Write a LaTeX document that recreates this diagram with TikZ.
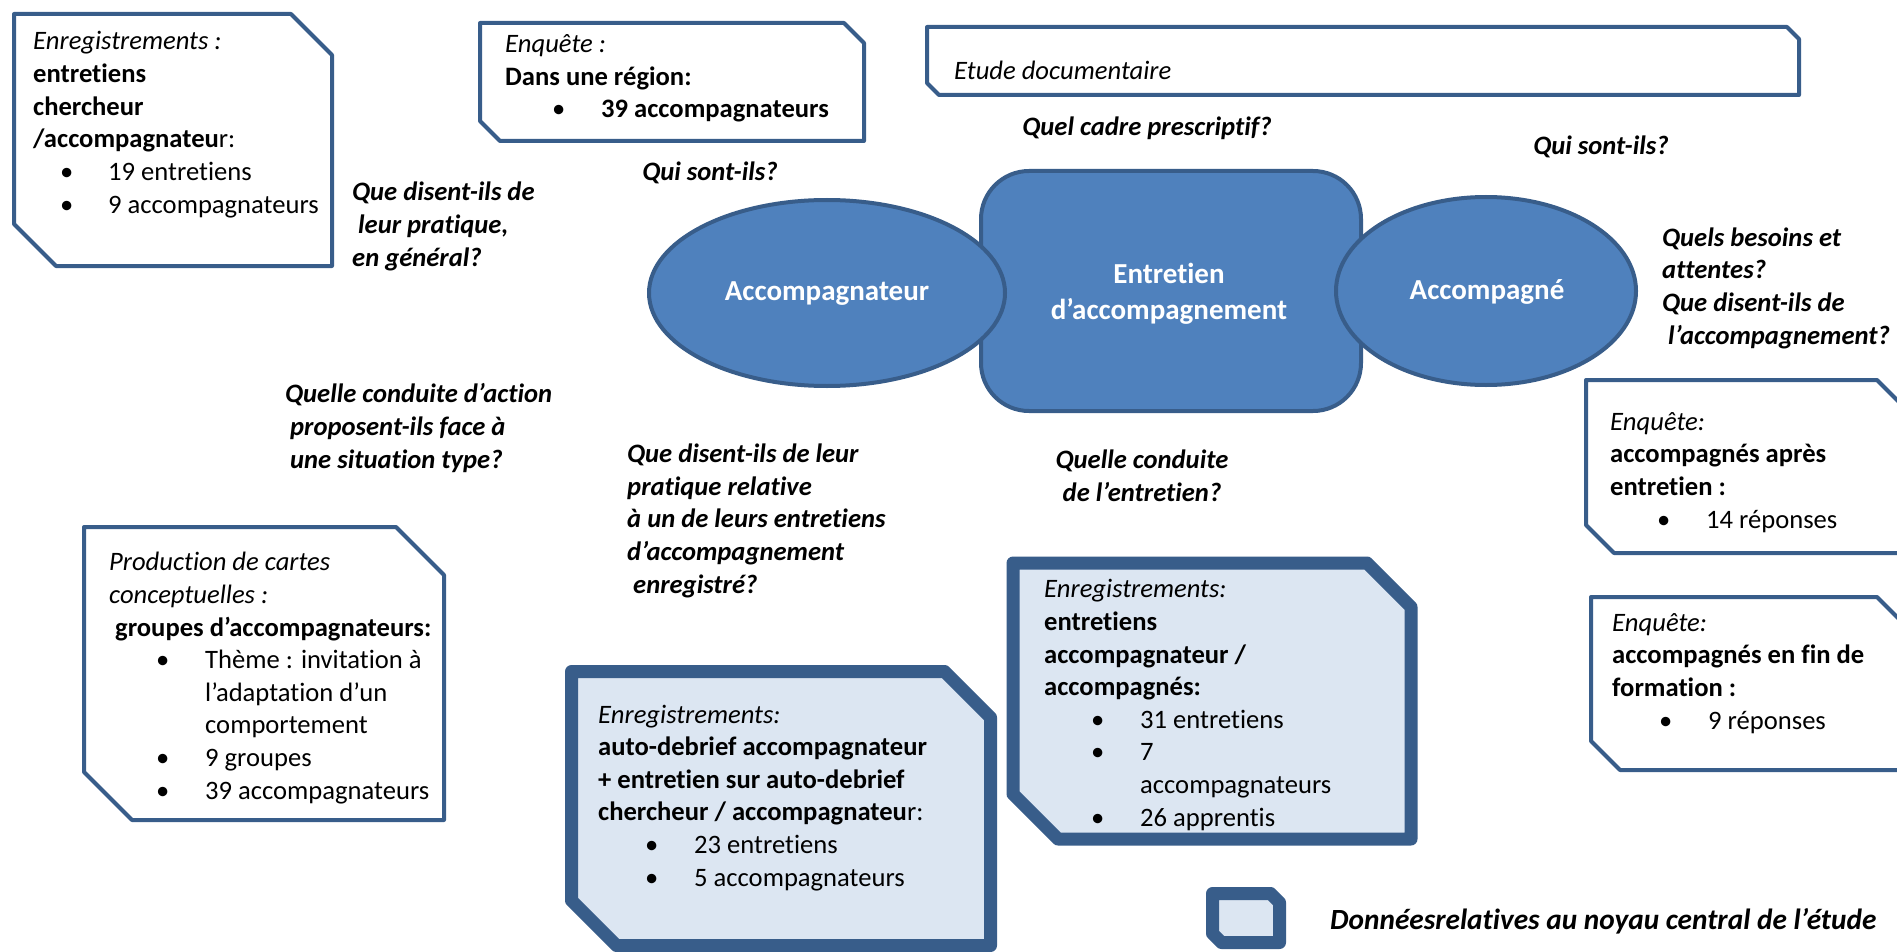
\documentclass[tikz,border=0pt]{standalone}
\usepackage{fontspec}
\setmainfont{Carlito}[Ligatures={NoCommon}]
\definecolor{accfill}{HTML}{4F81BD}
\definecolor{accline}{HTML}{385D8A}
\definecolor{lightfill}{HTML}{DCE6F2}
\newcommand\bline[1]{\hspace*{47pt}\makebox[49pt][l]{\textbullet}#1}
\newcommand\blineA[1]{\hspace*{27pt}\makebox[48pt][l]{\textbullet}#1}
\newcommand\indentl[1]{\hspace*{96pt}#1}
% snipped box: style, x1,y1,x2,y2, top-right cut, bottom-left cut
\newcommand\snipbox[7]{\path[#1] (#2,#3) -- ({#4-#6},#3) -- (#4,{#3+#6}) -- (#4,#5) -- ({#2+#7},#5) -- (#2,{#5-#7}) -- cycle;}
\tikzset{
  thinbox/.style={draw=accline, line width=4pt, fill=white, line join=round},
  thickbox/.style={draw=accline, line width=13pt, fill=lightfill, line join=round},
  centre/.style={draw=accline, line width=4pt, fill=accfill},
  txt/.style={inner sep=0pt, align=left, anchor=base west, font=\fontsize{26.6}{32.6}\selectfont},
  quest/.style={inner sep=0pt, align=left, anchor=base west, font=\fontsize{26.6}{32.6}\selectfont\bfseries\itshape},
  ctxt/.style={inner sep=0pt, align=center, text=white, font=\fontsize{29}{36}\selectfont\bfseries},
}
\begin{document}
\begin{tikzpicture}[x=1pt,y=-1pt]
\clip (0,0) rectangle (1897,952);
\fill[white] (0,0) rectangle (1897,952);
% boxes
\snipbox{thinbox}{14}{14}{332}{266}{41}{42}
\snipbox{thinbox}{480}{23}{864}{141}{20}{20}
\snipbox{thinbox}{927}{27}{1799}{95}{12}{12}
\snipbox{thinbox}{1586}{380}{1920}{553}{43}{28}
\snipbox{thinbox}{1591}{597}{1920}{770}{43}{29}
\snipbox{thinbox}{84}{527}{444}{820}{48}{48}
\snipbox{thickbox}{571.5}{671.5}{990.5}{945.5}{46}{45}
\snipbox{thickbox}{1013}{563}{1411}{839}{44}{45}
\snipbox{thickbox}{1212.5}{893.5}{1279.5}{942.5}{9}{9}
% central shapes
\draw[centre, rounded corners=48pt] (981,171) rectangle (1361,411);
\draw[centre] (827,293) ellipse [x radius=178, y radius=93];
\draw[centre] (1486,291) ellipse [x radius=150, y radius=94];
\node[ctxt] (acc) at (827,294) {Accompagnateur};
\node[ctxt] (ent) at (1169,294) {Entretien\\d’accompagnement};
\node[ctxt] (accg) at (1487,292) {Accompagné};
% box texts (anchor = baseline of the last line)
\node[txt] (t1) at (33,213) {\textit{Enregistrements :}\\ \textbf{entretiens}\\ \textbf{chercheur}\\ \textbf{/accompagnateu}r:\\ \blineA{19 entretiens}\\ \blineA{9 accompagnateurs}};
\node[txt] (t2) at (505,118) {\textit{Enquête :}\\ \textbf{Dans une région:}\\ \bline{\textbf{39 accompagnateurs}}};
\node[txt] (t3) at (954,80) {\textit{Etude documentaire}};
\node[txt] (t4) at (1610,528) {\textit{Enquête:}\\ \textbf{accompagnés après}\\ \textbf{entretien :}\\ \bline{14 réponses}};
\node[txt] (t5) at (1612,729) {\textit{Enquête:}\\ \textbf{accompagnés en fin de}\\ \textbf{formation :}\\ \bline{9 réponses}};
\node[txt] (t6) at (109,799) {\textit{Production de cartes}\\ \textit{conceptuelles :}\\ \hspace*{6pt}\textbf{groupes d’accompagnateurs:}\\ \bline{Thème : invitation à}\\ \indentl{l’adaptation d’un}\\ \indentl{comportement}\\ \bline{9 groupes}\\ \bline{39 accompagnateurs}};
\node[txt] (t7) at (598,886) {\textit{Enregistrements:}\\ \textbf{auto-debrief accompagnateur}\\ \textbf{+ entretien sur auto-debrief}\\ \textbf{chercheur / accompagnateu}r:\\ \bline{23 entretiens}\\ \bline{5 accompagnateurs}};
\node[txt] (t8) at (1044,826) {\textit{Enregistrements:}\\ \textbf{entretiens}\\ \textbf{accompagnateur /}\\ \textbf{accompagnés:}\\ \bline{31 entretiens}\\ \bline{7}\\ \indentl{accompagnateurs}\\ \bline{26 apprentis}};
% questions
\node[quest, anchor=base] (q1) at (1147,136) {Quel cadre prescriptif?};
\node[quest, anchor=base] (q2) at (1601,155) {Qui sont-ils?};
\node[quest, anchor=base] (q3) at (710,181) {Qui sont-ils?};
\node[quest] (q4) at (352,266) {Que disent-ils de\\ \hspace*{6pt}leur pratique,\\ en général?};
\node[quest] (q5) at (285,468) {Quelle conduite d’action\\ \hspace*{5pt}proposent-ils face à\\ \hspace*{5pt}une situation type?};
\node[quest] (q6) at (627,593) {Que disent-ils de leur\\ pratique relative\\ à un de leurs entretiens\\ d’accompagnement\\ \hspace*{6pt}enregistré?};
\node[quest, anchor=base, align=center] (q7) at (1142,501) {Quelle conduite\\ de l’entretien?};
\node[quest] (q8) at (1662,344) {Quels besoins et\\ attentes?\\ Que disent-ils de\\ \hspace*{6pt}l’accompagnement?};
% legend
\node[quest, font=\fontsize{29.3}{35}\selectfont\bfseries\itshape] (leg) at (1330,929) {Donnéesrelatives au noyau central de l’étude};
\end{tikzpicture}
\end{document}
